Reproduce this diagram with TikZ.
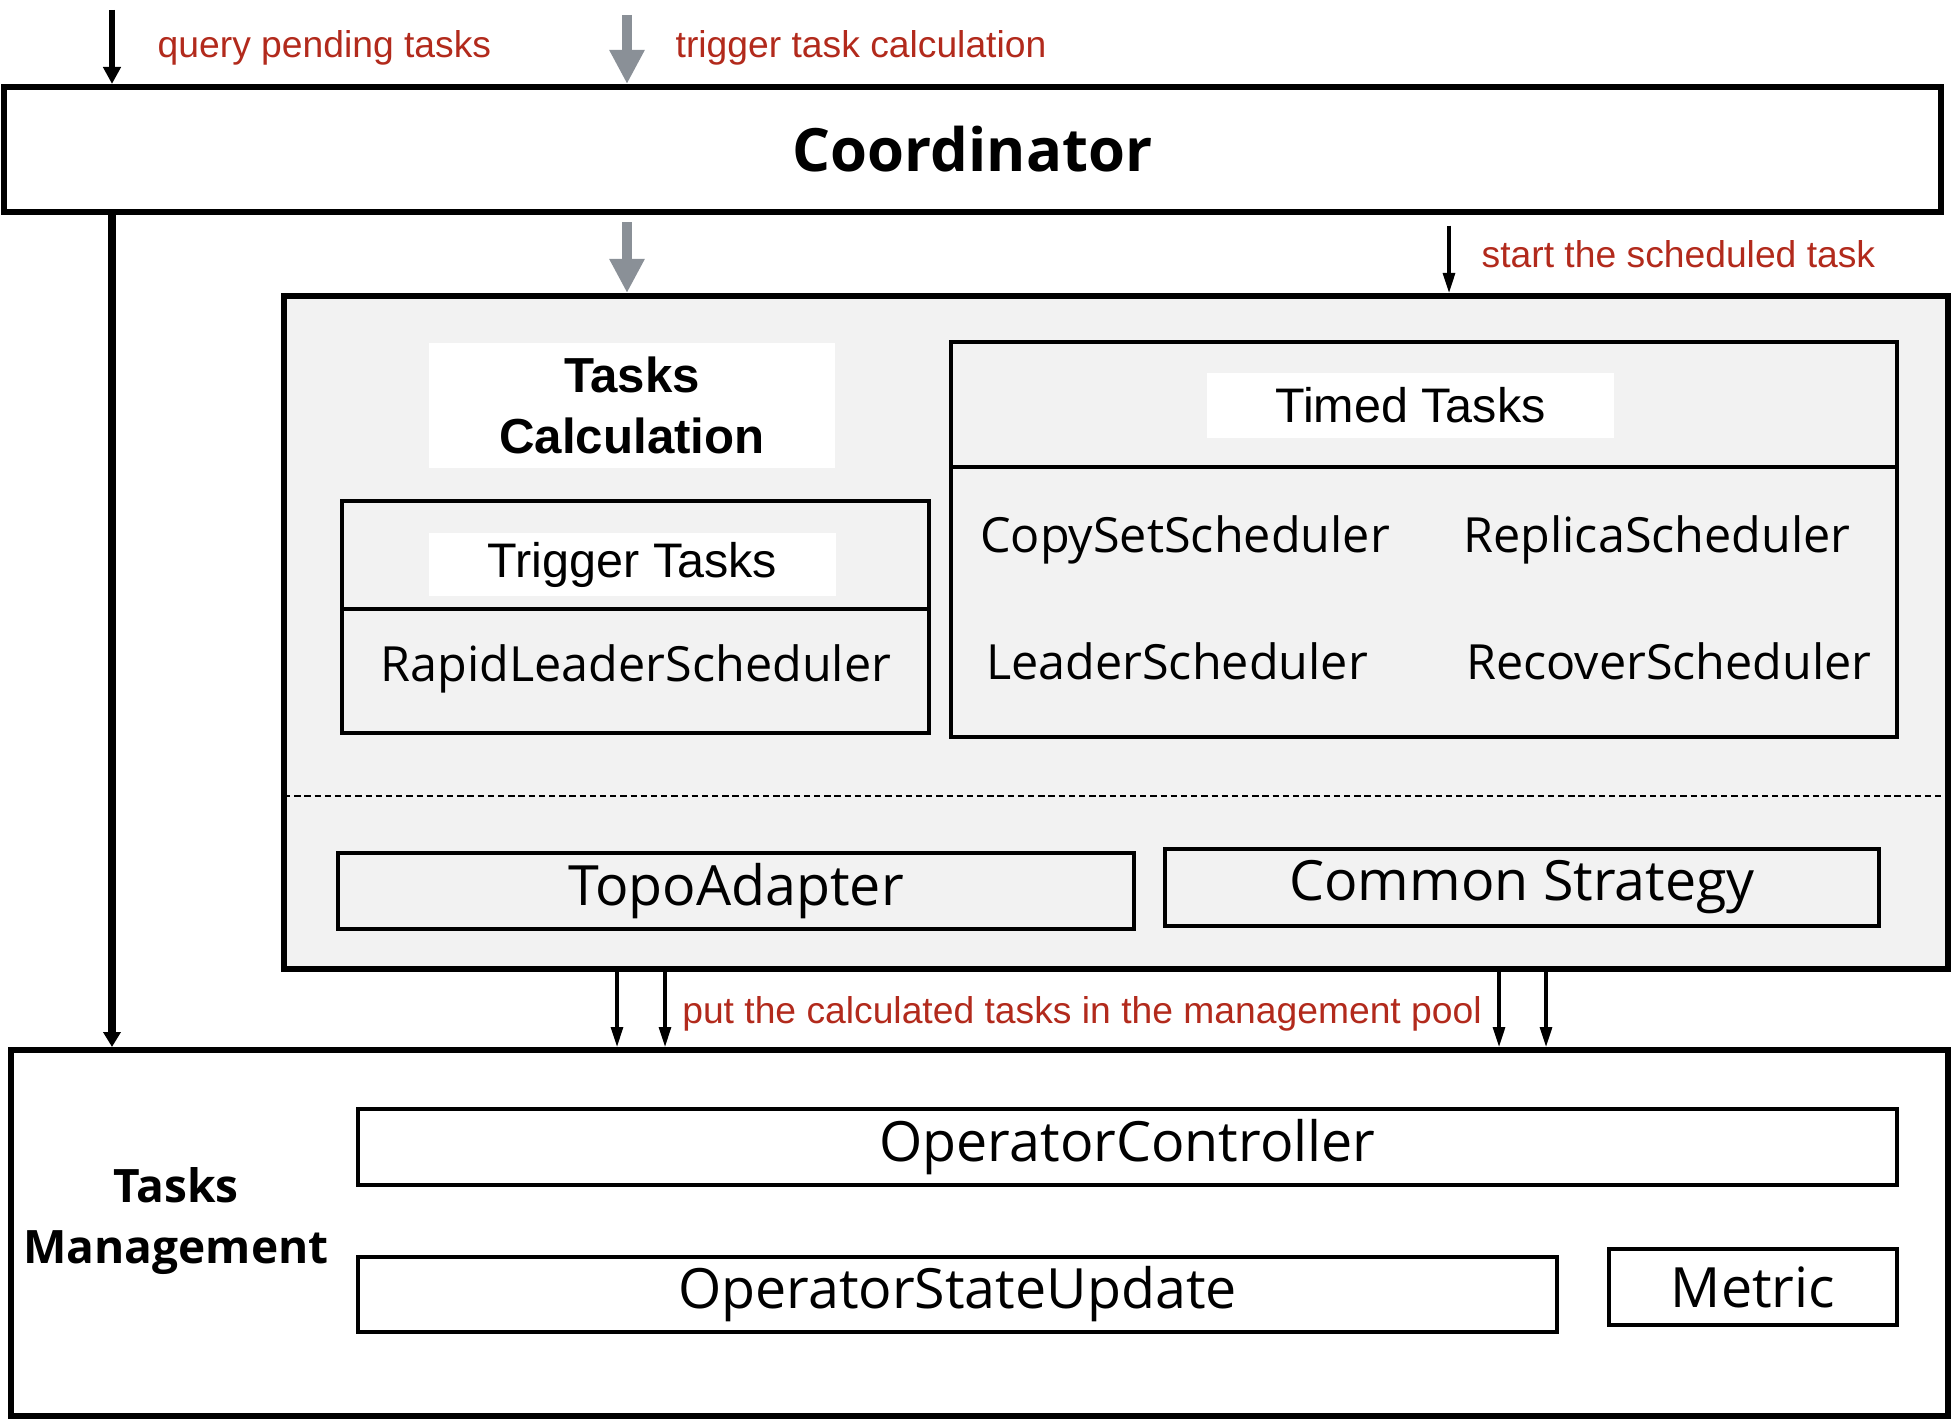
\documentclass[tikz,border=0pt]{standalone}
\usepackage{fontspec}
\setmainfont{Liberation Sans}
\newfontfamily\opensans{Open Sans}
\usetikzlibrary{arrows.meta}
\definecolor{notered}{RGB}{178,42,28}
\definecolor{panelgray}{RGB}{242,242,242}
\definecolor{flowgray}{RGB}{138,144,151}

\begin{document}
\begin{tikzpicture}[
  frame/.style={draw, line width=1.7pt, inner sep=0pt},
  box/.style={draw, line width=0.9pt, inner sep=0pt},
  title/.style={fill=white, inner sep=0pt},
  note/.style={text=notered, font=\fontsize{10.6}{12}\selectfont, anchor=west, inner sep=0pt},
  sched/.style={font=\opensans\fontsize{13.8}{16}\selectfont},
  big/.style={font=\opensans\fontsize{15.8}{18}\selectfont},
  flow/.style={draw=flowgray, line width=2.6pt, -{Triangle[length=0.34cm,width=0.33cm]}},
  put/.style={line width=0.9pt, -{Triangle[length=0.2cm,width=0.12cm]}}
]
  \useasboundingbox (0,0) rectangle (19.56,14.20);

  \node[frame, minimum width=19.37cm, minimum height=1.25cm,
        font=\opensans\bfseries\fontsize{17}{20}\selectfont] (coord) at (9.725,12.705) {Coordinator};

  \node[frame, fill=panelgray, minimum width=16.64cm, minimum height=6.73cm] (calc) at (11.16,7.875) {};
  \coordinate (dashL) at (2.84,6.24);
  \coordinate (dashR) at (19.48,6.24);
  \draw[line width=0.8pt, dash pattern=on 1.8pt off 1.1pt] (dashL) -- (dashR);

  \node[title, minimum width=4.06cm, minimum height=1.25cm, align=center,
        font=\bfseries\fontsize{14}{17.4}\selectfont] (calctitle) at (6.32,10.145) {Tasks\\Calculation};

  \node[box, minimum width=5.87cm, minimum height=2.32cm] (trig) at (6.355,8.03) {};
  \draw[line width=0.9pt] (3.42,8.11) -- (9.29,8.11);
  \node[title, minimum width=4.07cm, minimum height=0.63cm,
        font=\fontsize{13.8}{16}\selectfont] (trigtitle) at (6.325,8.555) {Trigger Tasks};
  \node[sched] (rapid) at (6.36,7.51) {RapidLeaderScheduler};

  \node[box, minimum width=9.46cm, minimum height=3.95cm] (timed) at (14.24,8.805) {};
  \draw[line width=0.9pt] (9.51,9.53) -- (18.97,9.53);
  \node[title, minimum width=4.07cm, minimum height=0.65cm,
        font=\fontsize{13.8}{16}\selectfont] (timedtitle) at (14.105,10.145) {Timed Tasks};
  \node[sched] (copyset) at (11.85,8.80) {CopySetScheduler};
  \node[sched] (replica) at (16.57,8.80) {ReplicaScheduler};
  \node[sched] (leader) at (11.77,7.59) {LeaderScheduler};
  \node[sched] (recover) at (16.69,7.59) {RecoverScheduler};

  \node[box, big, minimum width=7.96cm, minimum height=0.76cm] (topo) at (7.36,5.29) {TopoAdapter};
  \node[box, big, minimum width=7.14cm, minimum height=0.77cm] (common) at (15.22,5.325) {Common Strategy};

  \node[frame, minimum width=19.37cm, minimum height=3.66cm] (mgmt) at (9.795,1.87) {};
  \node[align=center, font=\opensans\bfseries\fontsize{13.1}{17.4}\selectfont] (mgmttitle) at (1.76,1.99) {Tasks\\Management};
  \node[box, big, minimum width=15.39cm, minimum height=0.76cm] (opctrl) at (11.275,2.73) {OperatorController};
  \node[box, big, minimum width=11.99cm, minimum height=0.75cm] (opstate) at (9.575,1.255) {OperatorStateUpdate};
  \node[box, big, minimum width=2.88cm, minimum height=0.76cm] (metric) at (17.53,1.33) {Metric};

  \coordinate (queryin) at (1.12,14.10);
  \draw[line width=1.6pt, -{Triangle[length=0.17cm,width=0.17cm]}] (queryin) -- (queryin |- coord.north);
  \draw[line width=2.2pt, -{Triangle[length=0.15cm,width=0.17cm]}] (coord.south -| queryin) -- (queryin |- mgmt.north);
  \node[note] (querynote) at (1.57,13.72) {query pending tasks};

  \coordinate (trigin) at (6.27,14.05);
  \draw[flow] (trigin) -- (trigin |- coord.north);
  \draw[flow, shorten <=2pt] (coord.south -| trigin) -- (calc.north -| trigin);
  \node[note] (trignote) at (6.75,13.72) {trigger task calculation};

  \coordinate (startx) at (14.49,12);
  \draw[put, shorten <=3pt] (coord.south -| startx) -- (calc.north -| startx);
  \node[note] (startnote) at (14.81,11.66) {start the scheduled task};

  \foreach \x [count=\i] in {6.17,6.65,14.99,15.46} {
    \coordinate (put\i) at (\x,4);
    \draw[put] (calc.south -| put\i) -- (mgmt.north -| put\i);
  }
  \node[note, anchor=center] (putnote) at (10.82,4.06) {put the calculated tasks in the management pool};
\end{tikzpicture}
\end{document}
